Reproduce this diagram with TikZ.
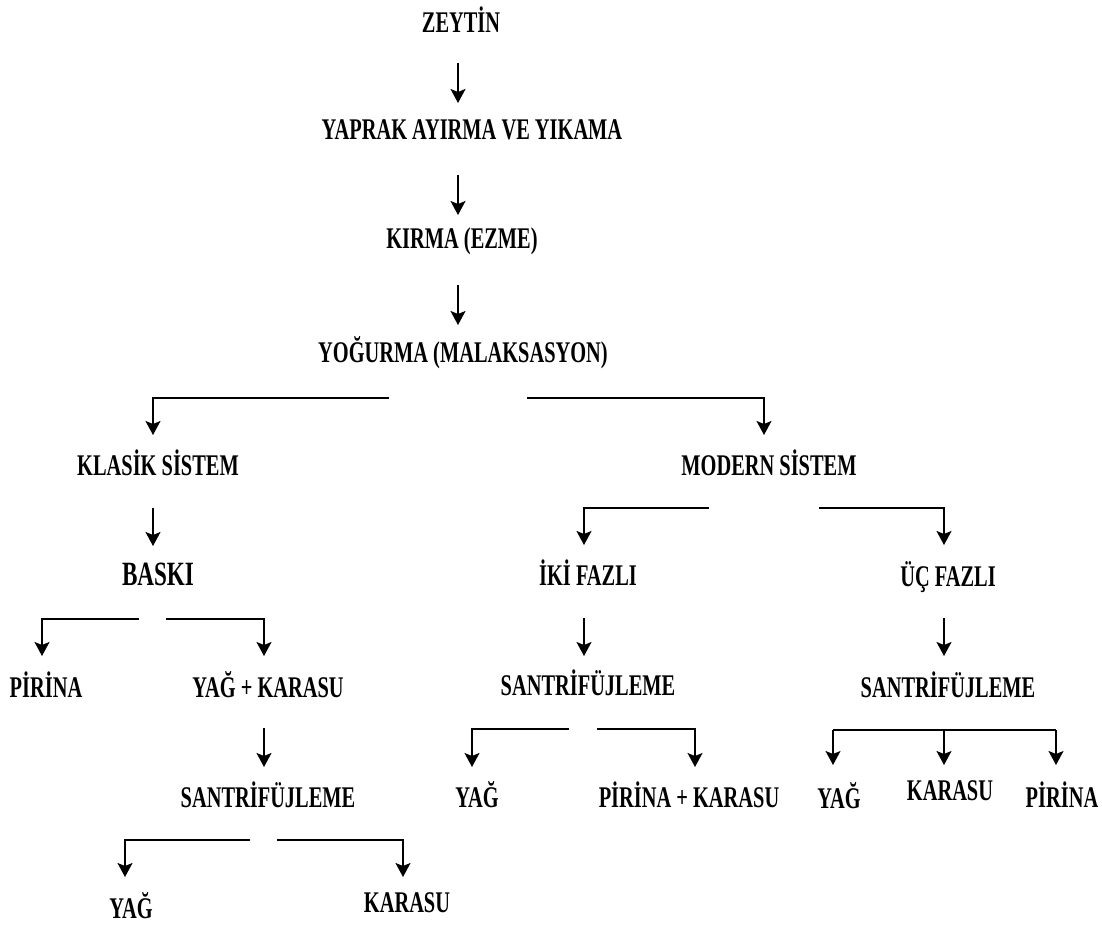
\documentclass[tikz,border=0pt]{standalone}
\usepackage{fontspec}
\setmainfont{Liberation Serif}[FakeStretch=0.68]
\usetikzlibrary{arrows.meta}
\begin{document}
\begin{tikzpicture}[x=1pt,y=-1pt,
  lbl/.style={anchor=base,inner sep=0pt,font=\fontsize{30}{34}\selectfont\bfseries},
  biglbl/.style={anchor=base,inner sep=0pt,font=\fontsize{34}{38}\selectfont\bfseries},
  arr/.style={line width=1.6pt,-{Stealth[length=14pt,width=15pt,inset=3pt]}},
  ln/.style={line width=1.6pt}]
\useasboundingbox[fill=white] (0,0) rectangle (1102,925);

% ---- labels ----
\node[lbl] (zeytin) at (461,33) {ZEYTİN};
\node[lbl] (yaprak) at (472,140) {YAPRAK AYIRMA VE YIKAMA};
\node[lbl] (kirma) at (462,248) {KIRMA (EZME)};
\node[lbl] (yogurma) at (463,362) {YOĞURMA (MALAKSASYON)};
\node[lbl] (klasik) at (158,475) {KLASİK SİSTEM};
\node[lbl] (modern) at (769,475) {MODERN SİSTEM};
\node[biglbl] (baski) at (158,585) {BASKI};
\node[lbl] (pirinaA) at (46,697) {PİRİNA};
\node[lbl] (yagkarasu) at (268,697) {YAĞ + KARASU};
\node[lbl] (santA) at (268,807) {SANTRİFÜJLEME};
\node[lbl] (yagA) at (131,918) {YAĞ};
\node[lbl] (karasuA) at (407,912) {KARASU};
\node[lbl] (iki) at (588,585) {İKİ FAZLI};
\node[lbl] (uc) at (948,586) {ÜÇ FAZLI};
\node[lbl] (santB) at (588,695) {SANTRİFÜJLEME};
\node[lbl] (santC) at (948,697) {SANTRİFÜJLEME};
\node[lbl] (yagB) at (477,807) {YAĞ};
\node[lbl] (pirkar) at (689,807) {PİRİNA + KARASU};
\node[lbl] (yagC) at (839,808) {YAĞ};
\node[lbl] (karasuC) at (950,800) {KARASU};
\node[lbl] (pirinaC) at (1062,807) {PİRİNA};

% ---- connector end points ----
\coordinate (z-o) at (458,63);  \coordinate (y-i) at (458,103);
\coordinate (y-o) at (458,175); \coordinate (k-i) at (458,215);
\coordinate (k-o) at (458,285); \coordinate (yo-i) at (458,325);
\coordinate (yo-l) at (389,398); \coordinate (kl-i) at (153,435);
\coordinate (yo-r) at (527,398); \coordinate (mo-i) at (764,435);
\coordinate (kl-o) at (153,508); \coordinate (ba-i) at (153,546);
\coordinate (ba-l) at (139,619); \coordinate (piA-i) at (42,656);
\coordinate (ba-r) at (166,619); \coordinate (yk-i) at (264,656);
\coordinate (yk-o) at (264,728); \coordinate (sA-i) at (264,767);
\coordinate (sA-l) at (250,840); \coordinate (yA-i) at (125,877);
\coordinate (sA-r) at (277,840); \coordinate (kA-i) at (403,877);
\coordinate (mo-l) at (709,508); \coordinate (iki-i) at (584,545);
\coordinate (mo-r) at (819,508); \coordinate (uc-i) at (944,545);
\coordinate (iki-o) at (584,618); \coordinate (sB-i) at (584,656);
\coordinate (uc-o) at (944,618); \coordinate (sC-i) at (944,656);
\coordinate (sB-l) at (569,729); \coordinate (yB-i) at (472,767);
\coordinate (sB-r) at (597,729); \coordinate (pk-i) at (695,767);
\coordinate (sC-l) at (833,730); \coordinate (sC-m) at (944,730); \coordinate (sC-r) at (1056,730);
\coordinate (yC-i) at (833,765); \coordinate (kC-i) at (944,765); \coordinate (pC-i) at (1056,765);

% ---- connectors ----
\draw[arr] (z-o) -- (y-i);
\draw[arr] (y-o) -- (k-i);
\draw[arr] (k-o) -- (yo-i);
\draw[arr] (yo-l) -| (kl-i);
\draw[arr] (yo-r) -| (mo-i);
\draw[arr] (kl-o) -- (ba-i);
\draw[arr] (ba-l) -| (piA-i);
\draw[arr] (ba-r) -| (yk-i);
\draw[arr] (yk-o) -- (sA-i);
\draw[arr] (sA-l) -| (yA-i);
\draw[arr] (sA-r) -| (kA-i);
\draw[arr] (mo-l) -| (iki-i);
\draw[arr] (mo-r) -| (uc-i);
\draw[arr] (iki-o) -- (sB-i);
\draw[arr] (uc-o) -- (sC-i);
\draw[arr] (sB-l) -| (yB-i);
\draw[arr] (sB-r) -| (pk-i);
\draw[ln] (sC-l) -- (sC-r);
\draw[arr] (sC-l) -- (yC-i);
\draw[arr] (sC-m) -- (kC-i);
\draw[arr] (sC-r) -- (pC-i);
\end{tikzpicture}
\end{document}
